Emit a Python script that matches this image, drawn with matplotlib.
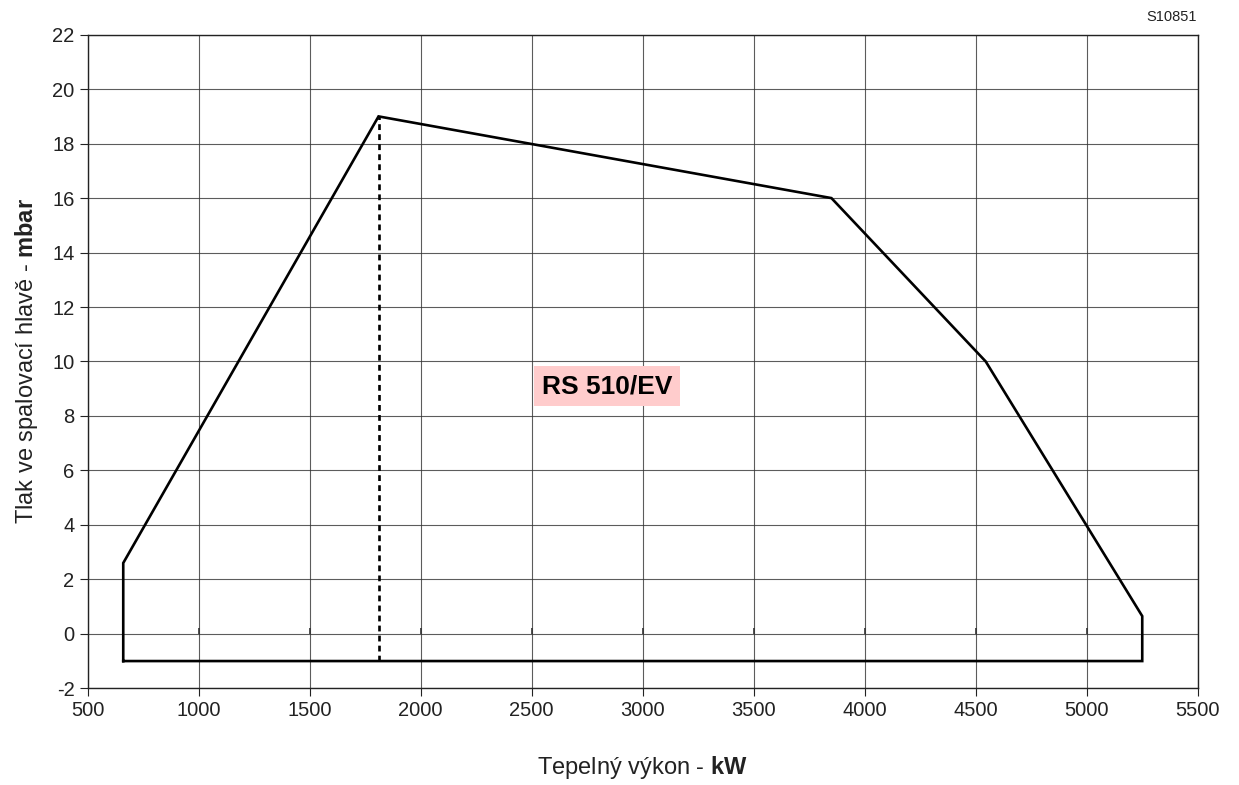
import matplotlib
matplotlib.use("Agg")
import matplotlib.pyplot as plt

# Data
outline_x = [660, 660, 1810, 3850, 4545, 5250, 5250, 660]
outline_y = [-1, 2.6, 19, 16, 10, 0.65, -1, -1]
dashed_x = [1810, 1810]
dashed_y = [-1, 19]
x_ticks = [500, 1000, 1500, 2000, 2500, 3000, 3500, 4000, 4500, 5000, 5500]
y_ticks = [-2, 0, 2, 4, 6, 8, 10, 12, 14, 16, 18, 20, 22]
y_ticklabels = ["-2", "0", "2", "4", "6", "8", "10", "12", "14", "16", "18", "20", "22"]
label_text = "RS 510/EV"
label_pos = (2840, 9.1)

plt.rcParams['font.family'] = ['Liberation Sans', 'DejaVu Sans']
plt.rcParams['mathtext.fontset'] = 'custom'
plt.rcParams['mathtext.rm'] = 'Liberation Sans'
plt.rcParams['mathtext.bf'] = 'Liberation Sans:bold'

fig = plt.figure(figsize=(12.39, 7.85), dpi=100)
ax = fig.add_axes([0.0708, 0.1232, 0.8959, 0.8326])

ax.set_xlim(500, 5500)
ax.set_ylim(-2, 22)
ax.set_xticks(x_ticks)
ax.set_yticks(y_ticks)
ax.set_yticklabels(y_ticklabels)
ax.grid(True, color='#333333', linewidth=0.8, alpha=0.8)
ax.set_axisbelow(True)
ax.tick_params(direction='out', length=6, width=0.8, pad=3.5, labelsize=14.5, colors='#222222')
for s in ax.spines.values():
    s.set_linewidth(1.0)
    s.set_color('#222222')

# small upward ticks on the zero line
ax.plot(x_ticks[1:-1], [0] * len(x_ticks[1:-1]), linestyle='none', marker=2,
        markersize=4, markeredgewidth=1.2, color='#333333', zorder=2)

ax.plot(outline_x, outline_y, color='black', linewidth=1.9, solid_joinstyle='miter', zorder=3)
ax.plot(dashed_x, dashed_y, color='black', linewidth=1.9, linestyle=(0, (2.2, 1.6)), zorder=3)

ax.text(label_pos[0], label_pos[1], label_text, fontsize=19, fontweight='bold',
        ha='center', va='center', zorder=4,
        bbox=dict(boxstyle='square,pad=0.3', facecolor='#ffcccc', edgecolor='none'))

ax.set_xlabel(r"Tepelný výkon - $\bf{kW}$", fontsize=17, labelpad=24, color='#222222')
ax.set_ylabel(r"Tlak ve spalovací hlavě - $\bf{mbar}$", fontsize=17, labelpad=9, color='#222222')

fig.text(0.9455, 0.978, "S10851", fontsize=10.5, ha='center', va='center', color='#222222')

fig.savefig("out.png", dpi=100)
